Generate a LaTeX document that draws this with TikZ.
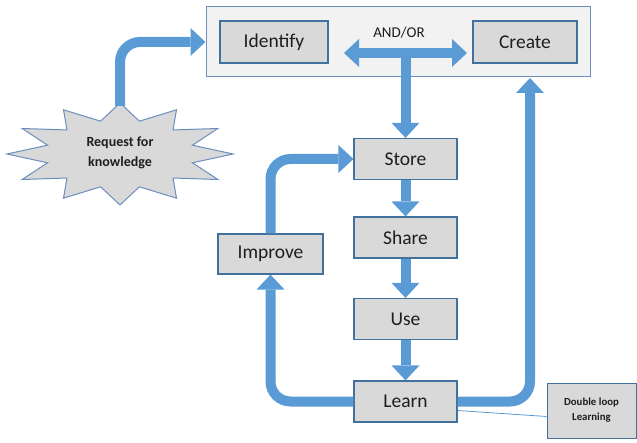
\documentclass[tikz,border=0pt]{standalone}
\usepackage{fontspec}
\setmainfont{Carlito}
\usetikzlibrary{arrows.meta}

\definecolor{arrowblue}{RGB}{91,155,213}
\definecolor{boxline}{RGB}{65,113,156}
\definecolor{frameline}{RGB}{108,142,191}
\definecolor{boxgray}{RGB}{217,217,217}
\definecolor{framegray}{RGB}{242,242,242}
\definecolor{textgray}{RGB}{30,30,30}

\begin{document}
\begin{tikzpicture}[x=1pt,y=-1pt,
	>={Triangle[width=28pt,length=15pt,line width=0pt]},
	stage/.style={draw=boxline,line width=1.2pt,fill=boxgray,text=textgray,
		minimum width=103pt,minimum height=41pt,inner sep=0pt,
		font=\fontsize{19.5}{22}\selectfont},
	fat/.style={draw=arrowblue,line width=10pt,rounded corners=20pt,->}]

	% page
	\useasboundingbox (0,0) rectangle (637,443);

	% top frame
	\node[draw=frameline,line width=1pt,fill=framegray,minimum width=384pt,
		minimum height=70pt,inner sep=0pt] (frame) at (398,42) {};
	\node[stage,minimum width=108pt,minimum height=42pt] (Identify) at (274,42) {Identify};
	\node[stage,minimum width=104pt,minimum height=42pt] (Create) at (525,42) {Create};
	\node[text=textgray,font=\fontsize{15}{18}\selectfont] (andor) at (399,33) {AND/OR};

	% cycle
	\node[stage] (Store) at (405.5,159) {Store};
	\node[stage] (Share) at (405.5,237.5) {Share};
	\node[stage] (Use) at (405.5,319) {Use};
	\node[stage] (Learn) at (405.5,401.5) {Learn};
	\node[stage,minimum width=105pt,minimum height=40pt] (Improve) at (270.5,254) {Improve};

	% request star
	\begin{scope}[shift={(120,154)}]
		\draw[draw=frameline,line width=1pt,fill=boxgray,line join=miter]
			(0:113pt and 51pt)
			\foreach \a in {0,30,...,300} {-- (\a+15:75pt and 34pt) -- (\a+30:113pt and 51pt)}
			-- (345:75pt and 34pt) -- cycle;
	\end{scope}
	\node[text=textgray,align=center,font=\bfseries\fontsize{14}{20}\selectfont] (request) at (120,153) {Request for\\knowledge};
	\coordinate (reqtop) at (120,106);

	% side note
	\node[draw=boxline,line width=1pt,fill=boxgray,minimum width=89pt,minimum height=55pt,
		inner sep=0pt,align=center,text=textgray,
		font=\bfseries\fontsize{10.8}{15}\selectfont] (dloop) at (591.5,410.5) {Double loop\\Learning};
	\draw[arrowblue,line width=0.8pt] ([yshift=-9pt]Learn.east) -- ([yshift=-6pt]dloop.west);

	% arrows
	\coordinate (andL) at (344,53);
	\coordinate (andR) at (467,53);
	\coordinate (andM) at (Store.north |- andL);
	\coordinate (crIn) at (530,78);
	\draw[fat] (reqtop) |- (frame.west |- Identify);
	\draw[fat,<->] (andL) -- (andR);
	\draw[fat] (andM) -- (Store.north);
	\draw[fat] (Store) -- (Share);
	\draw[fat] (Share) -- (Use);
	\draw[fat] (Use) -- (Learn);
	\draw[fat] (Learn.west) -| (Improve.south);
	\draw[fat] (Improve.north) |- (Store.west);
	\draw[fat] (Learn.east) -| (crIn);

\end{tikzpicture}
\end{document}
